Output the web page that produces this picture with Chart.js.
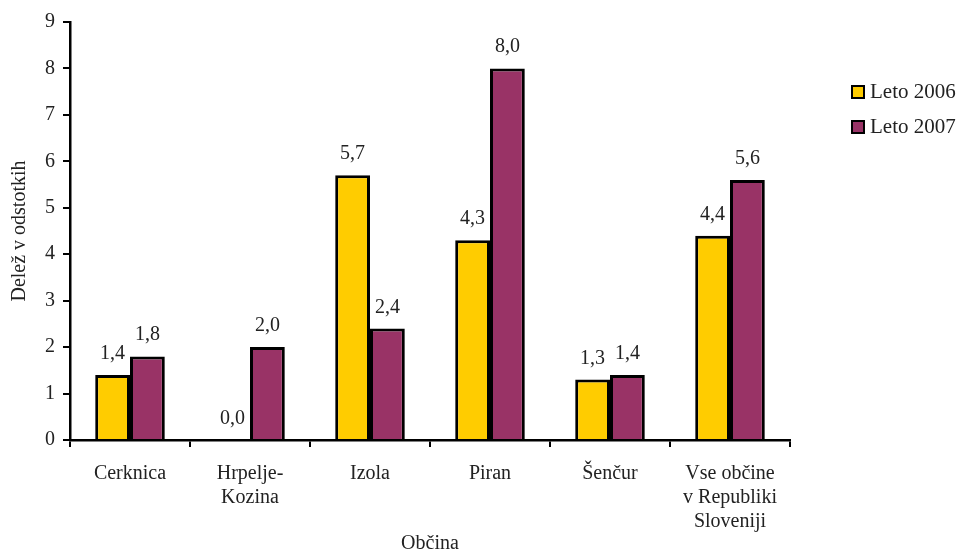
<!DOCTYPE html>
<html>
<head>
<meta charset="utf-8">
<script src="https://cdn.jsdelivr.net/npm/chart.js@4.4.0/dist/chart.umd.min.js"></script>
<style>
  html, body { margin: 0; padding: 0; background: #fff; }
  #wrap { position: relative; width: 959px; height: 554px; }
  #legenda { position: absolute; left: 851px; top: 74px; font-family: 'Liberation Serif', serif; font-size: 21px; color: #222; }
  #legenda div { display: flex; align-items: center; height: 35px; }
  #legenda span.box { display: inline-block; width: 10px; height: 10px; border: 2px solid #000; margin-right: 5px; }
</style>
</head>
<body>
<div id="wrap">
  <canvas id="graf" width="959" height="554"></canvas>
  <div id="legenda"></div>
</div>
<script>
const obcine = [['Cerknica'], ['Hrpelje-', 'Kozina'], ['Izola'], ['Piran'], ['Šenčur'], ['Vse občine', 'v Republiki', 'Sloveniji']];
const leto2006 = [1.4, 0.0, 5.7, 4.3, 1.3, 4.4];
const leto2007 = [1.8, 2.0, 2.4, 8.0, 1.4, 5.6];
const yTicks = [0, 1, 2, 3, 4, 5, 6, 7, 8, 9];

Chart.defaults.font.family = "'Liberation Serif', serif";
Chart.defaults.font.size = 20;
Chart.defaults.color = '#222';

// vrednosti nad stolpci
const oznake = {
  id: 'oznake',
  afterDatasetsDraw(chart) {
    const ctx = chart.ctx;
    ctx.save();
    ctx.font = "20px 'Liberation Serif', serif";
    ctx.fillStyle = '#222';
    ctx.textAlign = 'center';
    ctx.textBaseline = 'alphabetic';
    chart.data.datasets.forEach((ds, i) => {
      chart.getDatasetMeta(i).data.forEach((bar, j) => {
        ctx.fillText(ds.data[j].toFixed(1).replace('.', ','), bar.x, bar.y - 16);
      });
    });
    ctx.restore();
  }
};

const chart = new Chart(document.getElementById('graf'), {
  type: 'bar',
  data: {
    labels: obcine,
    datasets: [
      { label: 'Leto 2006', data: leto2006, backgroundColor: '#FFCC00', borderColor: '#000', borderWidth: 3, borderSkipped: 'start' },
      { label: 'Leto 2007', data: leto2007, backgroundColor: '#993366', borderColor: '#000', borderWidth: 3, borderSkipped: 'start' }
    ]
  },
  options: {
    responsive: false,
    animation: false,
    layout: { padding: { top: 22, right: 169, bottom: 0, left: 0 } },
    datasets: { bar: { categoryPercentage: 0.58, barPercentage: 1.0 } },
    plugins: { legend: { display: false }, tooltip: { enabled: false } },
    scales: {
      x: {
        grid: { drawOnChartArea: false, drawTicks: true, tickLength: 7, color: '#000', lineWidth: 2, offset: true },
        border: { color: '#000', width: 2.5 },
        ticks: { padding: 15, maxRotation: 0, autoSkip: false, font: { lineHeight: 1.2 } },
        title: { display: true, text: 'Občina', padding: { top: 0, bottom: 0 }, font: { lineHeight: 1 } },
        afterFit(scale) { scale.height = 114; }
      },
      y: {
        min: 0,
        max: 9,
        afterBuildTicks(scale) { scale.ticks = yTicks.map(v => ({ value: v })); },
        grid: { drawOnChartArea: false, drawTicks: true, tickLength: 7, color: '#000', lineWidth: 2 },
        border: { color: '#000', width: 2.5 },
        ticks: { padding: 8 },
        title: { display: true, text: 'Delež v odstotkih', padding: { top: 8, bottom: 0 } },
        afterFit(scale) { scale.width = 70; }
      }
    }
  },
  plugins: [oznake]
});

document.getElementById('legenda').innerHTML = chart.data.datasets.map(ds =>
  `<div><span class="box" style="background:${ds.backgroundColor}"></span>${ds.label}</div>`
).join('');
</script>
</body>
</html>
